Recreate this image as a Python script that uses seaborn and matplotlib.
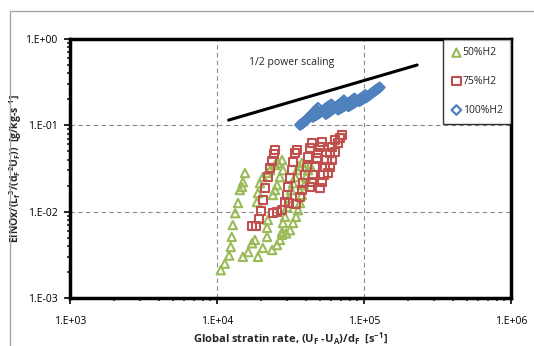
import numpy as np
import pandas as pd
import matplotlib
matplotlib.use("Agg")
import matplotlib.pyplot as plt
import matplotlib.ticker as mticker
from matplotlib.patches import Rectangle
import seaborn as sns

sns.set_style("white")
plt.rcParams['font.family'] = ['Open Sans', 'DejaVu Sans']
plt.rcParams['mathtext.fontset'] = 'dejavusans'

# ---------------- data ----------------
h50_x = [1.06e4, 1.13e4, 1.21e4, 1.24e4, 1.26e4, 1.28e4, 1.33e4, 1.39e4, 1.43e4, 1.48e4, 1.50e4, 1.55e4,
         1.50e4, 1.63e4, 1.73e4, 1.81e4, 1.90e4, 2.05e4, 2.19e4, 2.19e4, 2.22e4,
         1.87e4, 1.90e4, 1.96e4, 2.05e4, 2.19e4, 2.30e4, 2.48e4, 2.60e4, 2.77e4,
         2.37e4, 2.56e4, 2.68e4, 2.77e4, 2.81e4, 2.90e4, 3.00e4, 3.09e4, 3.19e4, 3.29e4, 3.40e4, 3.50e4, 3.62e4, 3.78e4,
         2.77e4, 2.95e4, 3.14e4, 3.29e4, 3.45e4, 3.56e4, 3.67e4, 3.78e4, 3.91e4, 4.03e4, 4.16e4, 4.29e4,
         2.40e4, 2.48e4, 2.56e4, 2.68e4, 2.81e4]
h50_y = [0.0021, 0.0025, 0.0031, 0.0039, 0.0051, 0.0070, 0.0096, 0.0126, 0.0178, 0.0193, 0.0220, 0.0280,
         0.0030, 0.0034, 0.0043, 0.0047, 0.0030, 0.0038, 0.0051, 0.0065, 0.0080,
         0.0129, 0.0164, 0.0214, 0.0252, 0.0280, 0.0303, 0.0347, 0.0366, 0.0396,
         0.0036, 0.0041, 0.0047, 0.0058, 0.0074, 0.0087, 0.0113, 0.0144, 0.0178, 0.0214, 0.0252, 0.0303, 0.0338, 0.0366,
         0.0054, 0.0056, 0.0061, 0.0074, 0.0087, 0.0104, 0.0126, 0.0156, 0.0203, 0.0252, 0.0303, 0.0347,
         0.0156, 0.0178, 0.0203, 0.0252, 0.0303]

h75_x = [1.73e4, 1.84e4, 1.93e4, 1.99e4, 2.05e4, 2.12e4, 2.22e4, 2.30e4, 2.37e4, 2.44e4, 2.48e4,
         2.40e4, 2.56e4, 2.77e4, 2.90e4, 3.00e4, 3.04e4, 3.14e4, 3.24e4, 3.29e4, 3.40e4, 3.50e4,
         3.67e4, 3.78e4, 3.85e4, 3.97e4, 4.10e4, 4.16e4, 4.29e4, 4.43e4,
         4.29e4, 4.43e4, 4.50e4, 4.64e4, 4.78e4, 4.86e4, 5.02e4, 5.18e4,
         5.02e4, 5.18e4, 5.30e4, 5.43e4, 5.56e4, 5.87e4, 6.06e4, 6.35e4,
         5.69e4, 5.87e4, 6.06e4, 6.35e4, 6.65e4, 6.87e4, 7.08e4,
         3.09e4, 3.45e4]
h75_y = [0.0068, 0.0068, 0.0082, 0.0102, 0.0136, 0.0188, 0.0252, 0.0320, 0.0386, 0.0465, 0.0518,
         0.0096, 0.0099, 0.0104, 0.0129, 0.0156, 0.0193, 0.0245, 0.0303, 0.0376, 0.0478, 0.0518,
         0.0148, 0.0178, 0.0214, 0.0266, 0.0329, 0.0430, 0.0546, 0.0624,
         0.0193, 0.0220, 0.0266, 0.0329, 0.0418, 0.0478, 0.0561, 0.0641,
         0.0188, 0.0220, 0.0266, 0.0329, 0.0396, 0.0478, 0.0561, 0.0676,
         0.0280, 0.0329, 0.0396, 0.0491, 0.0624, 0.0713, 0.0772,
         0.0126, 0.0122]

h100_x = [3.67e4, 3.74e4, 3.80e4, 3.88e4, 3.95e4, 4.02e4, 4.10e4, 4.18e4, 4.25e4, 4.32e4, 4.40e4, 4.48e4,
          4.55e4, 4.65e4, 4.75e4, 4.86e4,
          4.50e4, 4.60e4, 4.70e4, 4.80e4, 4.90e4, 5.00e4, 5.10e4, 5.20e4, 5.32e4, 5.45e4, 5.57e4,
          5.70e4, 5.85e4, 6.00e4,
          5.50e4, 5.60e4, 5.72e4, 5.85e4, 5.97e4, 6.10e4, 6.25e4, 6.40e4, 6.55e4, 6.70e4, 6.85e4,
          7.00e4, 7.15e4, 7.30e4,
          6.65e4, 6.80e4, 6.95e4, 7.10e4, 7.28e4, 7.45e4, 7.62e4, 7.80e4, 8.00e4, 8.20e4, 8.40e4, 8.60e4,
          7.85e4, 8.00e4, 8.20e4, 8.40e4, 8.60e4, 8.80e4, 9.00e4, 9.20e4, 9.45e4, 9.70e4, 9.95e4, 1.02e5,
          9.30e4, 9.50e4, 9.75e4, 1.00e5, 1.03e5, 1.05e5, 1.08e5, 1.10e5, 1.13e5, 1.15e5, 1.18e5, 1.20e5,
          1.23e5, 1.25e5, 1.28e5]
h100_y = [0.101, 0.103, 0.105, 0.108, 0.111, 0.114, 0.118, 0.121, 0.125, 0.129, 0.133, 0.137,
          0.142, 0.147, 0.152, 0.160,
          0.125, 0.128, 0.131, 0.134, 0.137, 0.140, 0.143, 0.147, 0.151, 0.156, 0.160,
          0.165, 0.170, 0.175,
          0.135, 0.138, 0.141, 0.145, 0.149, 0.153, 0.157, 0.162, 0.167, 0.172, 0.177,
          0.182, 0.188, 0.195,
          0.152, 0.155, 0.158, 0.162, 0.166, 0.170, 0.175, 0.180, 0.186, 0.192, 0.198, 0.205,
          0.166, 0.170, 0.174, 0.178, 0.183, 0.188, 0.193, 0.198, 0.204, 0.210, 0.217, 0.225,
          0.190, 0.195, 0.200, 0.205, 0.210, 0.215, 0.221, 0.228, 0.235, 0.242, 0.248, 0.255,
          0.262, 0.268, 0.275]

scaling_x = [1.2e4, 2.3e5]
scaling_y = [0.115, 0.50]

series_labels = ["50%H2", "75%H2", "100%H2"]
series_colors = ["#9BBB59", "#C0504D", "#4F81BD"]
series_markers = ["^", "s", "D"]

# ---------------- figure ----------------
fig = plt.figure(figsize=(5.34, 3.46), dpi=100)
ax = fig.add_axes([70/534, 1-298/346, (511-70)/534, (298-39)/346])

# outer Excel-like chart frame
fig.patches.append(Rectangle((10/534, -0.1), 1.2, 1-11/346+0.1, transform=fig.transFigure,
                             fill=False, edgecolor="#A6A6A6", lw=1.0, clip_on=False))

datasets = [(h50_x, h50_y, 36, 1.5), (h75_x, h75_y, 36, 1.5), (h100_x, h100_y, 24, 1.6)]
for (xs, ys, s, lw), lab, col, mk in zip(datasets, series_labels, series_colors, series_markers):
    df = pd.DataFrame({"x": xs, "y": ys})
    sns.scatterplot(data=df, x="x", y="y", ax=ax, marker=mk, s=s, color=col,
                    facecolor="none", edgecolor=col, linewidth=lw, label=lab, zorder=3)

sns.lineplot(x=scaling_x, y=scaling_y, ax=ax, color="black", lw=2.2, legend=False, zorder=4)
ax.text(3.22e4, 0.531, "1/2 power scaling", ha="center", va="center", fontsize=7.5)

ax.set_xscale("log")
ax.set_yscale("log")
ax.set_xlim(1e3, 1e6)
ax.set_ylim(1e-3, 1e0)

fmt = mticker.FuncFormatter(lambda v, p: "1.E%+03d" % int(round(np.log10(v))))
ax.xaxis.set_major_locator(mticker.LogLocator(base=10, numticks=10))
ax.yaxis.set_major_locator(mticker.LogLocator(base=10, numticks=10))
ax.xaxis.set_major_formatter(fmt)
ax.yaxis.set_major_formatter(fmt)
ax.xaxis.set_minor_locator(mticker.LogLocator(base=10, subs=np.arange(2, 10), numticks=20))
ax.yaxis.set_minor_locator(mticker.LogLocator(base=10, subs=np.arange(2, 10), numticks=20))
ax.xaxis.set_minor_formatter(mticker.NullFormatter())
ax.yaxis.set_minor_formatter(mticker.NullFormatter())
ax.tick_params(axis="both", which="major", direction="out", length=4, width=1.2,
               labelsize=7.5, colors="black")
ax.tick_params(axis="x", which="major", pad=9)
ax.tick_params(axis="y", which="major", pad=5)
ax.tick_params(axis="both", which="minor", direction="out", length=2.5, width=1.2)
ax.tick_params(left=True, bottom=True, which="both")

ax.grid(True, which="major", ls=(0, (4, 3)), color="#8C8C8C", lw=0.8)
for sp in ax.spines.values():
    sp.set_visible(True)
    sp.set_color("black")
    sp.set_linewidth(2.5)

ax.set_xlabel(r"Global stratin rate, (U$_\mathregular{F}$ -U$_\mathregular{A}$)/d$_\mathregular{F}$  [s$^{\mathregular{-1}}$]",
              fontsize=8, fontweight="bold", labelpad=3)
ax.set_ylabel(r"EINOx/(L$_\mathregular{f}$$^\mathregular{3}$/(d$_\mathregular{F}$$^\mathregular{2}$U$_\mathregular{F}$))  [g/kg-s$^{\mathregular{-1}}$]",
              fontsize=7.5, fontweight="bold", labelpad=1)

leg = ax.legend(loc="upper right", bbox_to_anchor=(1, 1), borderaxespad=0, fontsize=7.5,
                frameon=True, fancybox=False, edgecolor="black", labelspacing=1.7,
                handletextpad=0.1, handlelength=1.0, borderpad=0.8, markerscale=1.0)
leg.get_frame().set_linewidth(1.0)
leg.set_zorder(5)

fig.savefig("out.png", dpi=100)
